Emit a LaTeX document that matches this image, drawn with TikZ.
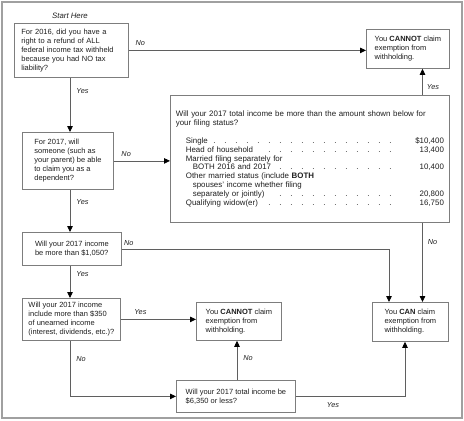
\documentclass[tikz,border=0pt]{standalone}
\usepackage{fontspec}
\setmainfont{Liberation Sans}
\usetikzlibrary{arrows.meta}
\definecolor{boxgray}{RGB}{125,125,125}
\definecolor{linegray}{RGB}{95,95,95}
\definecolor{framegray}{RGB}{160,160,160}
\definecolor{txt}{RGB}{30,30,30}
\newcommand\dotrow[1]{\leaders\hbox to 11pt{\hss.\hss}\hfill\makebox[40pt][r]{#1}}
\begin{document}
\begin{tikzpicture}[x=1pt,y=-1pt,
  box/.style={draw=boxgray, line width=0.8pt, anchor=north west, align=left,
    text=txt, font=\fontsize{7.5}{9}\selectfont, inner sep=0pt},
  conn/.style={draw=linegray, line width=0.8pt,
    -{Triangle[length=6pt,width=5.5pt,color=black]}},
  lbl/.style={font=\fontsize{7.3}{8}\selectfont\itshape, text=txt, inner sep=1pt}
]
\useasboundingbox (0,0) rectangle (464,421);
\draw[framegray, line width=2pt] (1.5,1.5) rectangle (461.5,418);

\coordinate (spine) at (70,0);
\coordinate (canL) at (389,0);
\coordinate (canR) at (422.5,0);
\coordinate (canB) at (405,0);
\coordinate (c2x) at (237,0);

\node[lbl, font=\fontsize{7.8}{9}\selectfont\itshape] (start) at (70,16) {Start Here};

\node[box, minimum width=114pt, minimum height=54pt, text width=100pt] (b1) at (14,23)
  {For 2016, did you have a\\right to a refund of ALL\\federal income tax withheld\\because you had NO tax\\liability?};
\node[box, minimum width=91pt, minimum height=57pt] (b2) at (22,132)
  {For 2017, will\\someone (such as\\your parent) be able\\to claim you as a\\dependent?};
\node[box, minimum width=99pt, minimum height=33pt] (b3) at (22,232)
  {Will your 2017 income\\be more than \$1,050?};
\node[box, minimum width=98pt, minimum height=42pt] (b4) at (22,298)
  {Will your 2017 income\\include more than \$350\\of unearned income\\(interest, dividends, etc.)?};
\node[box, minimum width=83pt, minimum height=39pt] (c1) at (366,29)
  {You \textbf{CANNOT} claim\\exemption from\\withholding.};
\node[box, minimum width=85pt, minimum height=38pt] (c2) at (196,302)
  {You \textbf{CANNOT} claim\\exemption from\\withholding.};
\node[box, minimum width=76pt, minimum height=39pt] (can) at (372,302)
  {You \textbf{CAN} claim\\exemption from\\withholding.};
\node[box, minimum width=119pt, minimum height=32pt] (six) at (176,380)
  {Will your 2017 total income be\\\$6,350 or less?};
\node[box, minimum width=279pt, minimum height=127pt, text width=268pt,
  font=\fontsize{7.9}{8.8}\selectfont] (big) at (170,95)
  {\makebox[264pt][s]{Will your 2017 total income be more than the amount shown below for}\\
   your filing status?\\[9pt]
   \hspace*{10pt}Single\dotrow{\$10,400}\\
   \hspace*{10pt}Head of household\dotrow{13,400}\\
   \hspace*{10pt}Married filing separately for\\
   \hspace*{17pt}BOTH 2016 and 2017\dotrow{10,400}\\
   \hspace*{10pt}Other married status (include \textbf{BOTH}\\
   \hspace*{17pt}spouses' income whether filing\\
   \hspace*{17pt}separately or jointly)\dotrow{20,800}\\
   \hspace*{10pt}Qualifying widow(er)\dotrow{16,750}};

\draw[conn] (b1.east) -- (c1.west |- b1.east) node[lbl, pos=0.048, above=3pt] {No};
\draw[conn] (b1.south -| spine) -- (b2.north -| spine) node[lbl, pos=0.25, right=5pt] {Yes};
\draw[conn] (b2.east) -- (big.west |- b2.east) node[lbl, pos=0.22, above=3pt] {No};
\draw[conn] (b2.south -| spine) -- (b3.north -| spine) node[lbl, pos=0.3, right=5pt] {Yes};
\draw[conn] (big.north -| canR) -- (c1.south -| canR) node[lbl, pos=0.3, right=3pt] {Yes};
\draw[conn] (b3.east) node[lbl, anchor=south west, xshift=1pt, yshift=2pt] {No} -| (can.north -| canL);
\draw[conn] (big.south -| canR) -- (can.north -| canR) node[lbl, pos=0.24, right=4pt] {No};
\draw[conn] (b3.south -| spine) -- (b4.north -| spine) node[lbl, pos=0.27, right=5pt] {Yes};
\draw[conn] (b4.east) -- (c2.west |- b4.east) node[lbl, pos=0.26, above=3pt] {Yes};
\draw[conn] (b4.south -| spine) |- (six.west) node[lbl, pos=0.16, right=5pt] {No};
\draw[conn] (six.north -| c2x) -- (c2.south -| c2x) node[lbl, pos=0.55, right=5pt] {No};
\draw[conn] (six.east) -| (can.south -| canB) node[lbl, pos=0.17, below=5pt] {Yes};
\end{tikzpicture}
\end{document}
